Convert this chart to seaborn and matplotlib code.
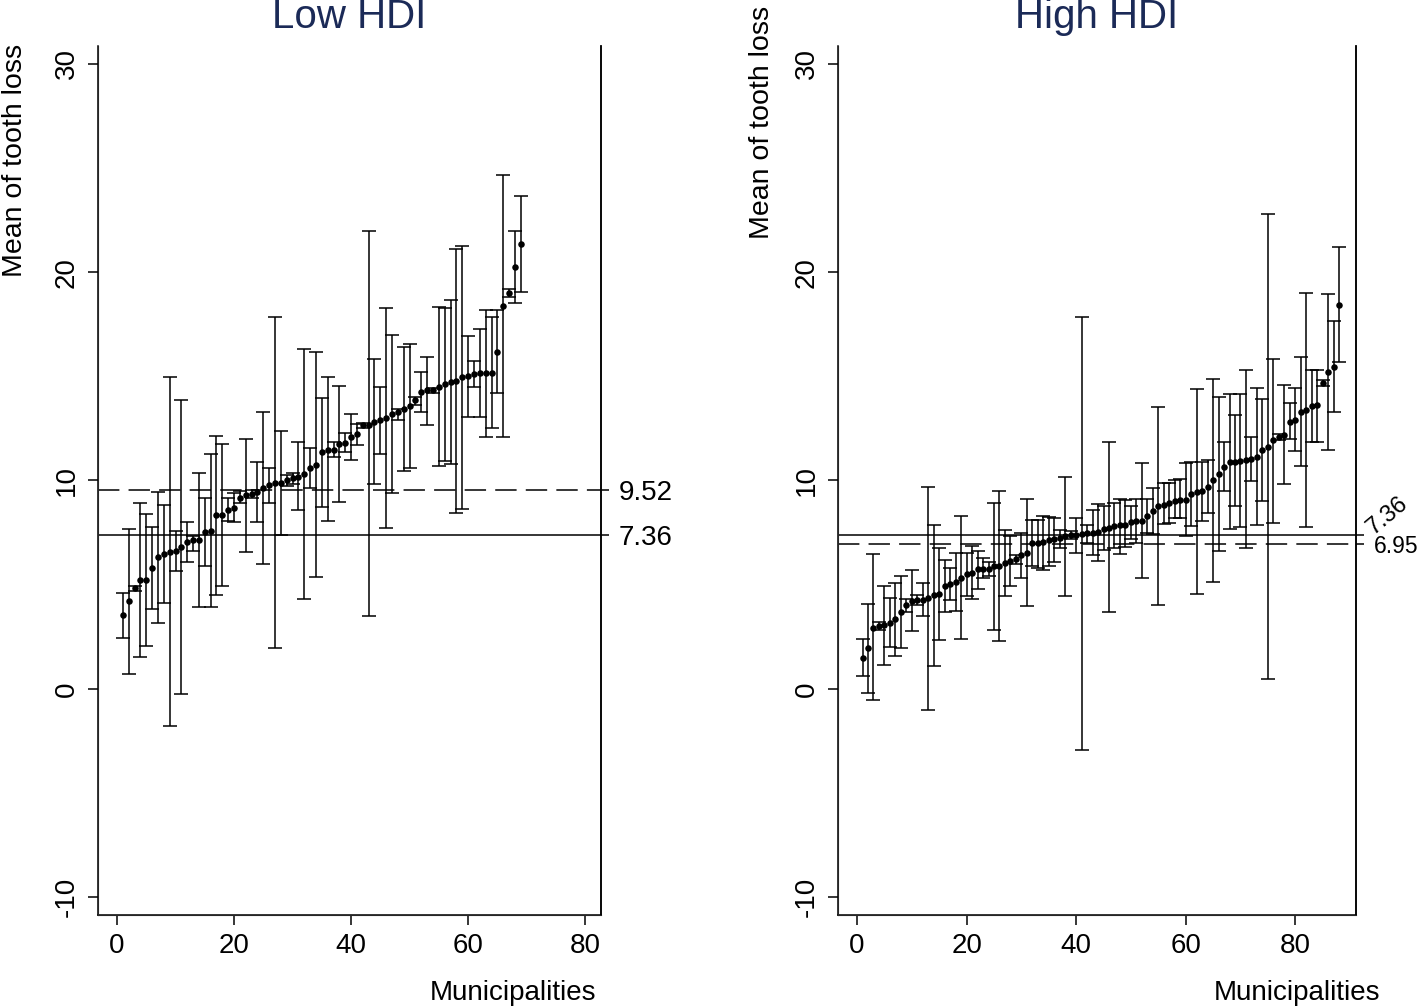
import numpy as np
import matplotlib
matplotlib.use("Agg")
import matplotlib.pyplot as plt
import seaborn as sns

# Low HDI: mean of tooth loss and 95% CI per municipality (ranked)
mean_low = [3.52, 4.19, 4.83, 5.23, 5.23, 5.78, 6.31, 6.47, 6.58, 6.61,
            6.80, 7.06, 7.14, 7.15, 7.54, 7.58, 8.32, 8.35, 8.58, 8.67,
            9.18, 9.28, 9.35, 9.44, 9.62, 9.76, 9.87, 9.87, 10.0, 10.1,
            10.19, 10.3, 10.6, 10.75, 11.36, 11.47, 11.47, 11.76, 11.82, 12.08,
            12.24, 12.64, 12.67, 12.8, 12.91, 12.99, 13.2, 13.28, 13.44, 13.59,
            13.84, 14.24, 14.32, 14.33, 14.51, 14.62, 14.72, 14.79, 14.95, 15.0,
            15.12, 15.16, 15.16, 15.16, 16.16, 18.39, 19.0, 20.24, 21.36]
hi_low = [4.62, 7.68, 4.95, 8.94, 8.4, 7.75, 9.47, 8.83, 14.96, 7.57,
          13.87, 8.0, 7.35, 10.37, 9.15, 11.27, 12.13, 11.75, 9.15, 9.4,
          9.5, 12.0, 9.55, 10.9, 13.27, 10.6, 17.86, 12.39, 10.25, 10.35,
          11.87, 16.3, 11.57, 16.17, 13.98, 14.95, 11.83, 14.55, 12.27, 13.19,
          12.69, 12.78, 21.99, 15.84, 14.51, 18.27, 16.99, 13.45, 16.4, 16.56,
          14.0, 15.2, 15.92, 14.45, 18.35, 18.27, 18.68, 21.12, 21.24, 16.95,
          15.75, 17.28, 18.19, 17.87, 18.16, 24.66, 19.2, 21.99, 23.68]
lo_low = [2.46, 0.72, 4.7, 1.54, 2.06, 3.84, 3.14, 4.1, -1.79, 5.66,
          -0.26, 6.1, 6.6, 3.94, 5.9, 3.94, 4.51, 4.94, 8.03, 8.0,
          8.9, 6.56, 9.15, 8.02, 5.97, 8.91, 1.94, 7.4, 9.75, 9.85,
          8.56, 4.32, 9.66, 5.35, 8.72, 8.03, 11.14, 8.98, 11.38, 10.99,
          11.71, 12.5, 3.5, 9.82, 11.28, 7.71, 9.42, 12.9, 10.47, 10.62,
          13.6, 13.28, 12.64, 14.2, 10.71, 10.95, 10.79, 8.43, 8.63, 13.04,
          14.51, 13.04, 12.11, 12.51, 14.2, 12.11, 18.8, 18.51, 19.04]

# High HDI
mean_high = [1.49, 1.94, 2.94, 2.99, 3.04, 3.17, 3.34, 3.68, 4.0, 4.22,
             4.24, 4.27, 4.38, 4.48, 4.56, 4.94, 5.04, 5.12, 5.33, 5.5,
             5.58, 5.74, 5.76, 5.76, 5.87, 5.9, 6.03, 6.13, 6.22, 6.42,
             6.54, 6.98, 6.99, 7.04, 7.12, 7.19, 7.25, 7.34, 7.36, 7.38,
             7.44, 7.47, 7.5, 7.52, 7.67, 7.71, 7.79, 7.84, 7.87, 8.0,
             8.05, 8.07, 8.31, 8.51, 8.75, 8.82, 8.94, 9.0, 9.04, 9.06,
             9.36, 9.47, 9.5, 9.71, 10.0, 10.31, 10.66, 10.88, 10.91, 10.95,
             10.98, 11.03, 11.15, 11.44, 11.63, 11.92, 12.11, 12.19, 12.83, 12.91,
             13.31, 13.39, 13.59, 13.62, 14.68, 15.2, 15.46, 18.43]
hi_high = [2.4, 4.08, 6.48, 3.2, 4.91, 4.34, 5.07, 5.42, 4.3, 5.68,
           4.5, 5.07, 9.71, 7.86, 6.75, 6.19, 5.79, 6.51, 8.27, 6.54,
           6.87, 6.59, 6.3, 6.1, 8.91, 9.5, 7.63, 7.31, 6.4, 7.5,
           9.12, 8.08, 8.1, 8.31, 8.24, 8.2, 7.63, 10.16, 7.55, 8.19,
           17.83, 7.87, 8.56, 8.88, 8.75, 11.83, 8.91, 9.1, 9.04, 8.79,
           9.1, 10.83, 9.1, 9.63, 13.55, 9.9, 9.87, 10.03, 10.08, 10.83,
           10.87, 14.4, 10.91, 10.99, 14.87, 14.03, 11.84, 14.16, 13.12, 14.16,
           15.28, 12.11, 14.44, 13.91, 22.8, 15.83, 12.25, 14.59, 13.71, 14.44,
           15.95, 19.0, 15.31, 15.31, 14.8, 18.95, 17.67, 21.2]
lo_high = [0.59, -0.18, -0.56, 2.8, 1.15, 2.0, 1.58, 1.95, 3.7, 2.78,
           4.0, 3.47, -1.0, 1.07, 2.35, 3.68, 4.27, 3.71, 2.39, 4.43,
           4.31, 4.79, 5.31, 5.4, 2.83, 2.3, 4.46, 4.94, 6.0, 5.31,
           3.95, 5.87, 5.8, 5.71, 5.87, 6.1, 6.75, 4.43, 7.2, 6.54,
           -2.93, 6.99, 6.43, 6.11, 6.64, 3.7, 6.75, 6.48, 6.8, 7.19,
           7.0, 5.31, 7.47, 7.43, 4.0, 7.91, 7.95, 8.19, 8.19, 7.31,
           7.79, 4.56, 8.07, 8.43, 5.12, 6.59, 9.5, 7.67, 8.79, 7.76,
           6.75, 9.99, 7.84, 9.03, 0.48, 7.98, 11.95, 9.83, 12.0, 11.43,
           10.71, 7.76, 11.84, 11.87, 14.55, 11.47, 13.27, 15.67]

overall_mean = 7.36
group_mean = {"Low HDI": 9.52, "High HDI": 6.95}

sns.set_style("ticks")
plt.rcParams['font.family'] = ['Liberation Sans', 'DejaVu Sans']
plt.rcParams['axes.unicode_minus'] = False
plt.rcParams['text.color'] = 'black'
plt.rcParams['axes.labelcolor'] = 'black'
plt.rcParams['xtick.color'] = 'black'
plt.rcParams['ytick.color'] = 'black'

fig = plt.figure(figsize=(14.18, 10.08), dpi=100)
ax_low = fig.add_axes([0.0691, 0.0923, 0.3547, 0.8621])
ax_high = fig.add_axes([0.5910, 0.0923, 0.3653, 0.8621])

panels = [
    (ax_low, "Low HDI", mean_low, lo_low, hi_low, (-3.25, 82.7), -0.165, 0.868, 0.99),
    (ax_high, "High HDI", mean_high, lo_high, hi_high, (-3.47, 91.1), -0.147, 0.912, 1.046),
]

for ax, name, m, lo, hi, xlim, ylab_x, ylab_y, xlab_x in panels:
    m = np.array(m)
    lo = np.array(lo)
    hi = np.array(hi)
    x = np.arange(1, len(m) + 1)

    ax.axhline(group_mean[name], color='black', lw=1.1, ls=(0, (14, 6)), zorder=1)
    ax.axhline(overall_mean, color='black', lw=1.1, zorder=1)

    ax.errorbar(x, m, yerr=[m - lo, hi - m], fmt='none', ecolor='black',
                elinewidth=1.1, capsize=4.8, capthick=1.1, zorder=2)
    sns.scatterplot(x=x, y=m, ax=ax, color='black', s=22, linewidth=0, zorder=3)

    ax.set_xlim(*xlim)
    ax.set_ylim(-10.86, 30.86)
    ax.set_xticks([0, 20, 40, 60, 80])
    ax.set_yticks([-10, 0, 10, 20, 30])
    ax.tick_params(axis='both', length=7, width=1.1, labelsize=20, pad=6,
                   color='black', labelcolor='black')
    for lab in ax.get_yticklabels():
        lab.set_rotation(90)
        lab.set_va('center')
    for side in ['left', 'bottom', 'right']:
        ax.spines[side].set_linewidth(1.1)
        ax.spines[side].set_color('black')
    ax.spines['top'].set_visible(False)

    ax.set_title(name, fontsize=29, color='#1b2a57', pad=13)
    ax.set_ylabel("Mean of tooth loss", fontsize=20.5)
    ax.yaxis.label.set_va('center')
    ax.yaxis.set_label_coords(ylab_x, ylab_y)
    ax.set_xlabel("Municipalities", fontsize=20)
    ax.xaxis.label.set_ha('right')
    ax.xaxis.label.set_va('top')
    ax.xaxis.set_label_coords(xlab_x, -0.075)

    # reference values marked on the right axis
    ax2 = ax.twinx()
    ax2.set_ylim(ax.get_ylim())
    ax2.spines['top'].set_visible(False)
    ax2.spines['right'].set_linewidth(1.1)
    ax2.spines['right'].set_color('black')
    ax2.tick_params(axis='y', length=6, width=1.1, labelsize=20, pad=7,
                    color='black', labelcolor='black')
    if name == "Low HDI":
        ax2.set_yticks([group_mean[name], overall_mean],
                       labels=[f"{group_mean[name]:.2f}", f"{overall_mean:.2f}"])
    else:
        ax2.set_yticks([overall_mean, group_mean[name]],
                       labels=[f"{overall_mean:.2f}", f"{group_mean[name]:.2f}"])
        rot, flat = ax2.get_yticklabels()
        rot.set_fontsize(17)
        rot.set_rotation(40)
        rot.set_rotation_mode('anchor')
        rot.set_va('baseline')
        flat.set_fontsize(16.5)

fig.savefig("out.png", dpi=100)
